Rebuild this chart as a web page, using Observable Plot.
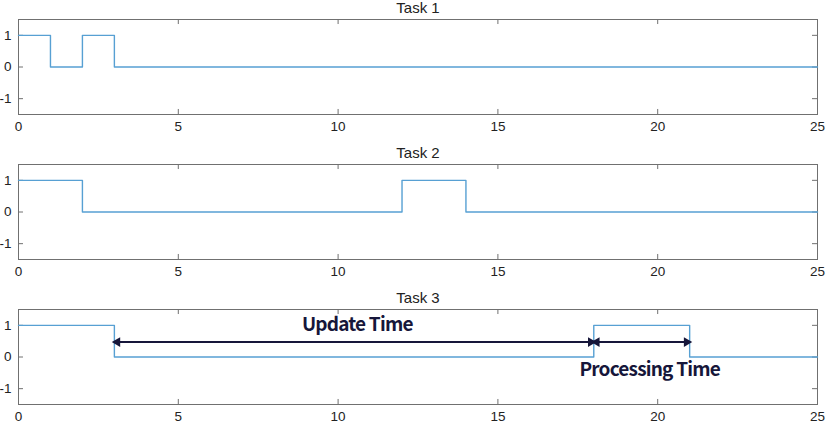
<!DOCTYPE html>
<html><head><meta charset="utf-8">
<script src="https://cdn.jsdelivr.net/npm/d3@7"></script>
<script src="https://cdn.jsdelivr.net/npm/@observablehq/plot@0.6"></script>
<style>body{margin:0;background:#fff} #chart svg{display:block;overflow:visible}</style>
</head><body><div id="chart"></div>
<script>
const titles = ["Task 1", "Task 2", "Task 3"];
const task1X = [0, 1, 2, 3, 25];
const task1Y = [1, 0, 1, 0, 0];
const task2X = [0, 2, 12, 14, 25];
const task2Y = [1, 0, 1, 0, 0];
const task3X = [0, 3, 18, 21, 25];
const task3Y = [1, 0, 1, 0, 0];
const xTicks = [0, 5, 10, 15, 20, 25];
const yTicks = [-1, 0, 1];
const arrowLabels = ["Update Time", "Processing Time"];
const arrowStart = [3, 18];
const arrowEnd = [18, 21];
const arrowY = [0.47, 0.47];
const labelX = [10.6, 19.75];
const labelY = [1.0, -0.42];

const seriesX = [task1X, task2X, task3X];
const seriesY = [task1Y, task2Y, task3Y];
const frameColor = "#707070";
const lineColor = "#57a0d3";
const annColor = "#16163a";
const kx = 5 / 32, ky = 5 / 31.5;

function panel(i) {
  const data = seriesX[i].map((x, j) => ({x, y: seriesY[i][j]}));
  const marks = [
    Plot.frame({stroke: frameColor, strokeWidth: 1}),
    Plot.ruleX(xTicks, {x: d => d, y1: -1.5, y2: -1.5 + ky, stroke: frameColor}),
    Plot.ruleX(xTicks, {x: d => d, y1: 1.5 - ky, y2: 1.5, stroke: frameColor}),
    Plot.ruleY(yTicks, {y: d => d, x1: 0, x2: kx, stroke: frameColor}),
    Plot.ruleY(yTicks, {y: d => d, x1: 25 - kx, x2: 25, stroke: frameColor}),
    Plot.line(data, {x: "x", y: "y", curve: "step-after", stroke: lineColor, strokeWidth: 1.4}),
    Plot.axisX({ticks: xTicks, tickSize: 0, tickPadding: 7, fontSize: 13.5, color: "#222", label: null, tickFormat: d => String(d)}),
    Plot.axisY({ticks: yTicks, tickSize: 0, tickPadding: 7, fontSize: 13.5, color: "#222", label: null, tickFormat: d => String(d)}),
    Plot.text([titles[i]], {frameAnchor: "top", lineAnchor: "middle", dy: -11, fontSize: 15, fill: "#222"})
  ];
  if (i === 2) {
    const ann = arrowStart.map((s, j) => ({s, e: arrowEnd[j], y: arrowY[j], label: arrowLabels[j], lx: labelX[j], ly: labelY[j]}));
    marks.push(
      Plot.link(ann, {x1: "s", x2: "e", y1: "y", y2: "y", stroke: annColor, strokeWidth: 2}),
      Plot.dot(ann, {x: "s", y: "y", symbol: "triangle", rotate: -90, r: 3.6, fill: annColor, stroke: "none", dx: 3}),
      Plot.dot(ann, {x: "e", y: "y", symbol: "triangle", rotate: 90, r: 3.6, fill: annColor, stroke: "none", dx: -3}),
      Plot.text(ann, {x: "lx", y: "ly", text: "label", fill: annColor, fontSize: 19, fontWeight: 600, fontFamily: "Noto Sans CJK KR"})
    );
  }
  return Plot.plot({
    width: 827, height: 145,
    marginLeft: 18, marginRight: 10, marginTop: 19, marginBottom: 31,
    style: {fontFamily: "'Liberation Sans', Arial, sans-serif", background: "#fff"},
    x: {domain: [0, 25], label: null},
    y: {domain: [-1.5, 1.5], label: null},
    marks
  });
}
const el = document.getElementById("chart");
for (let i = 0; i < 3; i++) el.appendChild(panel(i));
d3.selectAll("text").filter(function() { return this.textContent === "Update Time" || this.textContent === "Processing Time"; }).style("letter-spacing", "-0.8px");
</script>
</body></html>
